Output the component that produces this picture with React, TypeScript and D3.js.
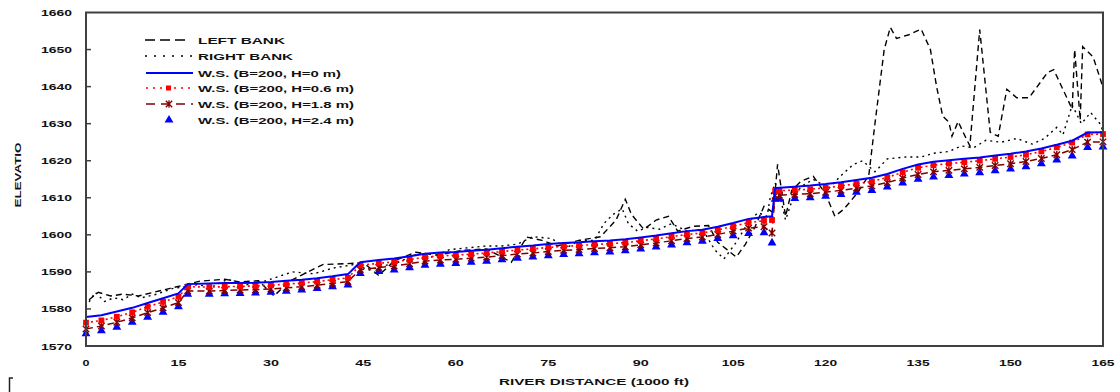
import React from "react";
import * as d3 from "d3";

// ---- data ----
const stations = [0,2.5,5,7.5,10,12.5,15,16.5,20,22.5,25,27.5,30,32.5,35,37.5,40,42.5,44.5,47.5,50,52.5,55,57.5,60,62.5,65,67.5,70,72.5,75,77.5,80,82.5,85,87.5,90,92.5,95,97.5,100,102.5,105,107.5,110,111.3,111.8,112.5,115,117.5,120,122.5,125,127.5,130,132.5,135,137.5,140,142.5,145,147.5,150,152.5,155,157.5,160,162.5,165];

const wsH0 = [1577.8,1578.3,1579.3,1580.3,1581.6,1582.9,1584.2,1586.7,1586.9,1587.0,1587.0,1587.1,1587.3,1587.6,1587.9,1588.3,1588.8,1589.4,1592.6,1593.2,1593.6,1594.2,1594.9,1595.2,1595.4,1595.7,1596.0,1596.4,1596.8,1597.1,1597.5,1597.8,1598.0,1598.3,1598.5,1598.8,1599.3,1599.8,1600.4,1601.0,1601.4,1602.2,1603.2,1604.3,1604.8,1605.0,1612.6,1612.7,1613.0,1613.3,1613.7,1614.2,1614.8,1615.4,1616.4,1617.8,1619.0,1619.7,1620.1,1620.5,1620.9,1621.4,1621.9,1622.5,1623.3,1624.3,1625.4,1627.6,1627.7];

const wsH06 = [1576.3,1576.9,1577.9,1579.1,1580.6,1581.9,1583.3,1586.0,1585.9,1586.0,1586.1,1586.2,1586.4,1586.7,1587.0,1587.4,1587.9,1588.4,1591.8,1592.3,1592.7,1593.3,1594.0,1594.3,1594.5,1594.8,1595.1,1595.5,1595.9,1596.2,1596.6,1596.9,1597.1,1597.4,1597.6,1597.9,1598.4,1598.9,1599.5,1600.1,1600.5,1601.3,1602.3,1603.3,1603.8,1604.0,1611.8,1611.9,1612.1,1612.3,1612.7,1613.2,1613.8,1614.4,1615.5,1616.9,1618.1,1618.8,1619.2,1619.6,1620.0,1620.5,1621.0,1621.6,1622.5,1623.6,1624.9,1627.1,1627.2];

const wsH18 = [1574.6,1575.4,1576.4,1577.6,1579.0,1580.3,1581.7,1584.9,1584.8,1585.0,1585.1,1585.2,1585.4,1585.7,1586.0,1586.4,1586.9,1587.4,1590.6,1591.2,1591.6,1592.2,1592.9,1593.2,1593.4,1593.7,1594.0,1594.4,1594.8,1595.1,1595.5,1595.8,1596.0,1596.3,1596.5,1596.8,1597.3,1597.8,1598.4,1599.0,1599.4,1600.1,1601.0,1601.8,1602.2,1600.5,1610.6,1610.7,1610.9,1611.1,1611.5,1612.0,1612.6,1613.2,1614.1,1615.3,1616.3,1617.0,1617.4,1617.8,1618.2,1618.7,1619.2,1619.8,1620.6,1621.6,1623.0,1625.0,1625.1];

const wsH24 = [1573.3,1574.1,1575.1,1576.4,1577.8,1579.1,1580.6,1584.0,1584.0,1584.1,1584.2,1584.3,1584.5,1584.8,1585.1,1585.5,1586.0,1586.5,1589.6,1590.1,1590.5,1591.1,1591.8,1592.1,1592.3,1592.6,1592.9,1593.3,1593.7,1594.0,1594.4,1594.7,1594.9,1595.2,1595.4,1595.7,1596.2,1596.7,1597.3,1597.9,1598.3,1599.0,1599.8,1600.4,1600.6,1597.8,1609.6,1609.7,1609.8,1610.0,1610.4,1610.9,1611.5,1612.0,1612.9,1614.0,1615.0,1615.6,1616.0,1616.4,1616.8,1617.3,1617.8,1618.4,1619.2,1620.2,1621.3,1623.6,1623.7];

const leftBankX = [0.5,2,4,6,8.5,11,13.5,16,18.5,22.5,25,28,30.5,33,36,38.5,42,45,47.5,50,53.5,57,61,65,69,71.5,74,76.5,80,83.5,86,87.5,88.5,90.5,92.5,94.5,96,98.5,101,102.5,104,105.5,107,108.5,110,111.5,112.2,113.5,114.5,116,118,120,121.5,123,125,127,128,129.5,130.5,131.5,133.5,135.5,137,138,139,140,140.5,141.5,142.3,143.4,145,146.7,148,149.4,151,153,156,157,160,160.4,161.3,161.7,163.4,165];
const leftBankY = [1582.5,1584.5,1583.5,1584,1583.5,1584.5,1585.5,1586.5,1587.5,1588,1587.3,1587.6,1583.5,1587.5,1590,1592,1592.2,1592.5,1589,1593,1595.3,1594.5,1595.8,1596.2,1592.6,1599.4,1598.5,1597,1598.5,1599.5,1604,1609.6,1605.5,1601.5,1604,1605,1601,1602.3,1602.5,1598,1596,1594,1597.5,1602,1607.7,1606,1619,1605,1612,1614.5,1615.8,1611,1605,1607,1611,1616,1630,1650,1656,1653,1654,1655.5,1650,1640,1632,1630.4,1626.6,1630.6,1627.7,1624,1655.4,1627.7,1626.6,1639.3,1637,1637,1643.8,1644.6,1633.9,1650,1631,1650.8,1648,1639.8];

const rightBankX = [0.5,1.5,3,4.5,6,7.5,9,11.5,14,16,18,20.5,23,26,29,33.5,37,40,43.5,46,48,50.5,54,56,59,62,65,67.5,70,72.5,75.5,78,80,82.5,84,85.5,87,88,89.5,91,93,95,97.5,100,102,103.5,105.5,107.5,109,110.5,111,111.8,112.5,113.5,114.5,116,118,120.5,122.5,124.5,126,128,130,133,135.5,137.5,140,142,144,146,148.5,151,153.5,155.5,157.5,158.5,160,161.5,163,164.5,165];
const rightBankY = [1581.9,1584.5,1582,1583,1582.5,1584,1583,1584,1585.5,1586,1586.5,1586,1588,1586.5,1587.5,1590,1589.5,1591,1592,1590.5,1591.5,1592.5,1595,1594,1596,1596.5,1597,1597,1597.5,1599.5,1599,1596.5,1598.5,1598.5,1603,1605.5,1607,1603,1601,1602,1601.5,1603,1601,1601.5,1596,1593.5,1598,1603.5,1606,1605,1610,1614,1611,1604,1609,1613,1615,1612.5,1616,1619,1620,1617,1620.5,1621,1621,1622,1622.5,1624,1623.5,1625.5,1625,1626,1624.5,1626,1629,1627,1635,1630,1633,1630,1628];

const xTicks = [0,15,30,45,60,75,90,105,120,135,150,165];
const yTicks = [1570,1580,1590,1600,1610,1620,1630,1640,1650,1660];
const legendLabels = ["LEFT BANK","RIGHT BANK","W.S. (B=200, H=0 m)","W.S. (B=200, H=0.6 m)","W.S. (B=200, H=1.8 m)","W.S. (B=200, H=2.4 m)"];

const BLUE = "#0000ff";
const RED = "#ff0000";
const DARKRED = "#800000";
const FONT = "'Liberation Sans', Arial, sans-serif";

export default function App() {
  const x = d3.scaleLinear().domain([0, 165]).range([86, 1103]);
  const y = d3.scaleLinear().domain([1570, 1660]).range([346, 12.5]);

  const line = d3.line<[number, number]>().x(d => x(d[0])).y(d => y(d[1]));
  const zip = (xs: number[], ys: number[]) => xs.map((v, i) => [v, ys[i]] as [number, number]).filter(d => d[1] !== undefined);

  const s0 = zip(stations, wsH0);
  const s06 = zip(stations, wsH06);
  const s18 = zip(stations, wsH18);
  const s24 = zip(stations, wsH24);
  const lb = zip(leftBankX, leftBankY);
  const rb = zip(rightBankX, rightBankY);

  const tri = d3.symbol(d3.symbolTriangle, 34)() as string;
  const star = "M-3.2,-3.2L3.2,3.2M-3.2,3.2L3.2,-3.2M0,-3.8L0,3.8";

  const legendY = [40, 56, 73, 88, 104, 120];
  const legendW = [87, 95, 143, 156, 156, 156];

  return (
    <svg width={1120} height={392} style={{ position: "absolute", left: 0, top: 0, background: "#fff" }} fontFamily={FONT}>
      <rect x={0} y={0} width={1120} height={392} fill="#fff" />

      {/* banks */}
      <path d={line(lb) as string} fill="none" stroke="#000" strokeWidth={1.4} strokeDasharray="6,4" />
      <path d={line(rb) as string} fill="none" stroke="#000" strokeWidth={1.4} strokeDasharray="2,4" />

      {/* water surfaces */}
      {s24.map((d, i) => (
        <path key={"t" + i} d={tri} transform={`translate(${x(d[0])},${y(d[1])})`} fill={BLUE} />
      ))}
      <path d={line(s18) as string} fill="none" stroke={DARKRED} strokeWidth={1.5} strokeDasharray="7,4" />
      {s18.map((d, i) => (
        <path key={"s" + i} d={star} transform={`translate(${x(d[0])},${y(d[1])})`} stroke={DARKRED} strokeWidth={1.4} fill="none" />
      ))}
      <path d={line(s06) as string} fill="none" stroke={RED} strokeWidth={1.6} strokeDasharray="2,3" />
      {s06.map((d, i) => (
        <rect key={"r" + i} x={x(d[0]) - 2.9} y={y(d[1]) - 2.9} width={5.8} height={5.8} fill={RED} />
      ))}
      <path d={line(s0) as string} fill="none" stroke={BLUE} strokeWidth={2} />

      {/* frame */}
      <rect x={86} y={12.5} width={1017} height={333.5} fill="none" stroke="#404040" strokeWidth={2} />

      {/* y ticks */}
      {yTicks.map(t => (
        <g key={"yt" + t}>
          {t > 1570 && t < 1660 && <line x1={86} x2={91} y1={y(t)} y2={y(t)} stroke="#404040" strokeWidth={1.5} />}
          <text x={72} y={y(t) + 3.5} textAnchor="end" fontSize={9} fontWeight="bold" textLength={31} lengthAdjust="spacingAndGlyphs" fill="#111">{t}</text>
        </g>
      ))}

      {/* x ticks */}
      {xTicks.map(t => (
        <text key={"xt" + t} x={x(t)} y={366} textAnchor="middle" fontSize={9} fontWeight="bold" textLength={t < 10 ? 7 : t < 100 ? 16 : 23} lengthAdjust="spacingAndGlyphs" fill="#111">{t}</text>
      ))}

      {/* axis titles */}
      <text x={594} y={385} textAnchor="middle" fontSize={9} fontWeight="bold" textLength={190} lengthAdjust="spacingAndGlyphs" fill="#111">RIVER DISTANCE (1000 ft)</text>
      <text transform="translate(21,175) rotate(-90)" textAnchor="middle" fontSize={9} fontWeight="bold" textLength={65} lengthAdjust="spacingAndGlyphs" fill="#111">ELEVATIO</text>

      {/* legend */}
      <g>
        <line x1={145} x2={190} y1={legendY[0]} y2={legendY[0]} stroke="#000" strokeWidth={1.5} strokeDasharray="10,5" />
        <line x1={145} x2={192} y1={legendY[1]} y2={legendY[1]} stroke="#000" strokeWidth={1.5} strokeDasharray="2,7" />
        <line x1={146} x2={193} y1={legendY[2]} y2={legendY[2]} stroke={BLUE} strokeWidth={1.8} />
        <line x1={146} x2={193} y1={legendY[3]} y2={legendY[3]} stroke={RED} strokeWidth={1.6} strokeDasharray="2,5" />
        <rect x={166} y={legendY[3] - 2.5} width={5} height={5} fill={RED} />
        <line x1={146} x2={193} y1={legendY[4]} y2={legendY[4]} stroke={DARKRED} strokeWidth={1.5} strokeDasharray="9,6" />
        <path d={star} transform={`translate(169,${legendY[4]})`} stroke={DARKRED} strokeWidth={1.3} fill="none" />
        <path d={tri} transform={`translate(169,${legendY[5]})`} fill={BLUE} />
        {legendLabels.map((l, i) => (
          <text key={"lg" + i} x={198} y={legendY[i] + 3.5} fontSize={9.5} fontWeight="bold" textLength={legendW[i]} lengthAdjust="spacingAndGlyphs" fill="#111">{l}</text>
        ))}
      </g>

      {/* corner mark */}
      <path d="M13,378L9.5,378L9.5,392" fill="none" stroke="#222" strokeWidth={1.5} />
    </svg>
  );
}
